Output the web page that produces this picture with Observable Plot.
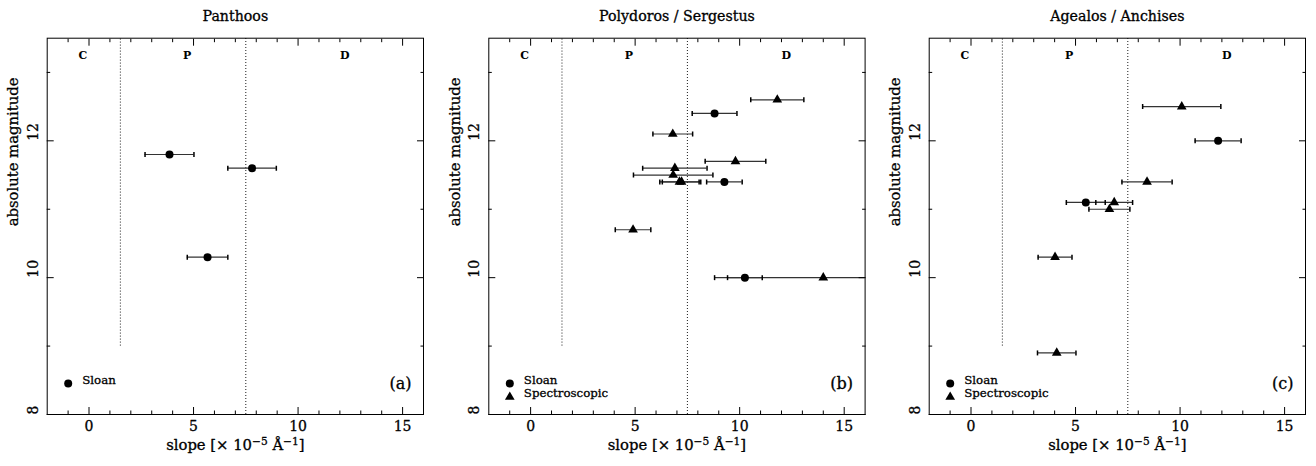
<!DOCTYPE html>
<html><head><meta charset="utf-8">
<script src="https://cdn.jsdelivr.net/npm/d3@7"></script>
<script src="https://cdn.jsdelivr.net/npm/@observablehq/plot@0.6"></script>
<style>
body{margin:0;background:#fff;}
#wrap{position:relative;width:1316px;height:466px;overflow:hidden;background:#fff;}
#wrap svg{position:absolute;top:0;}
</style></head><body><div id="wrap"></div>
<script>
// ---- data ----
const panelTitles = ["Panthoos", "Polydoros / Sergestus", "Agealos / Anchises"];
const panelTags = ["(a)", "(b)", "(c)"];
// x label pieces: normal, superscript, normal, superscript, normal
const xLabelParts = ["slope [× 10", "−5", " Å", "−1", "]"];
const yLabel = "absolute magnitude";
const xTicksMajor = [0, 5, 10, 15];
const xTicksMinor = [-1, 1, 2, 3, 4, 6, 7, 8, 9, 11, 12, 13, 14];
const yTicksMajor = [8, 10, 12];
const yTicksMinor = [9, 11, 13];
const xDomain = [-2, 16];
const yDomain = [8, 13.5];

// class boundaries (C | P | D)
const boundaryX = [1.5, 7.5];
const boundaryBottom = [9, 8];
const boundaryTop = [13.5, 13.5];
const regionNames = ["C", "P", "D"];
const regionX = [-0.5, 4.5, 12];
const regionY = [13.25, 13.25, 13.25];

// panel (a) Panthoos
const aSloanSlope = [3.85, 7.8, 5.67];
const aSloanMag   = [11.8, 11.6, 10.3];
const aSloanErr   = [1.17, 1.16, 0.97];

// panel (b) Polydoros / Sergestus
const bSloanSlope = [8.8, 9.27, 10.25];
const bSloanMag   = [12.4, 11.4, 10.0];
const bSloanErr   = [1.07, 0.85, 0.83];
const bSpecSlope  = [11.8, 6.8, 9.8, 6.9, 6.82, 7.12, 7.22, 4.9, 14.0];
const bSpecMag    = [12.6, 12.1, 11.7, 11.6, 11.5, 11.4, 11.4, 10.7, 10.0];
const bSpecErr    = [1.27, 0.95, 1.45, 1.54, 1.9, 0.94, 0.92, 0.85, 5.2];

// panel (c) Agealos / Anchises
const cSloanSlope = [11.82, 5.49];
const cSloanMag   = [12.0, 11.1];
const cSloanErr   = [1.1, 0.93];
const cSpecSlope  = [10.08, 8.42, 6.85, 6.62, 4.02, 4.1];
const cSpecMag    = [12.5, 11.4, 11.1, 11.0, 10.3, 8.9];
const cSpecErr    = [1.87, 1.2, 0.88, 0.98, 0.81, 0.92];

// ---- helpers ----
const zipPts = (s, m, e) => s.map((v, i) => ({slope: v, mag: m[i], err: e[i]}));
const boundaries = boundaryX.map((x, i) => ({x, y1: boundaryBottom[i], y2: boundaryTop[i]}));
const regions = regionNames.map((n, i) => ({label: n, x: regionX[i], y: regionY[i]}));
const capSymbol = {draw(ctx) { ctx.moveTo(0, -2.5); ctx.lineTo(0, 2.5); }};
const xLabelKey = xLabelParts.join("");

const panels = [
  {sloan: zipPts(aSloanSlope, aSloanMag, aSloanErr), spec: [], left: 0, width: 440, ml: 46.7},
  {sloan: zipPts(bSloanSlope, bSloanMag, bSloanErr), spec: zipPts(bSpecSlope, bSpecMag, bSpecErr), left: 440, width: 440, ml: 48.3},
  {sloan: zipPts(cSloanSlope, cSloanMag, cSloanErr), spec: zipPts(cSpecSlope, cSpecMag, cSpecErr), left: 880, width: 436, ml: 48.7}
];
const frameSize = 376.3;
const wrap = document.getElementById("wrap");
const font = "'DejaVu Serif', serif";
const thick = {fill: "black", stroke: "black", strokeWidth: 0.3};

panels.forEach((p, i) => {
  const all = p.sloan.concat(p.spec);
  const legend = [
    Plot.dot([0], {frameAnchor: "bottom-left", dx: 21, dy: -31, r: 4, fill: "black", symbol: "circle"}),
    Plot.text(["Sloan"], {frameAnchor: "bottom-left", dx: 35, dy: -31, text: d => d, textAnchor: "start", fontSize: 11.8, ...thick})
  ];
  if (p.spec.length) {
    legend.push(
      Plot.dot([0], {frameAnchor: "bottom-left", dx: 21, dy: -17.5, r: 3.6, fill: "black", symbol: "triangle"}),
      Plot.text(["Spectroscopic"], {frameAnchor: "bottom-left", dx: 35, dy: -17.5, text: d => d, textAnchor: "start", fontSize: 11.8, ...thick})
    );
  }
  const svg = Plot.plot({
    width: p.width,
    height: 466,
    marginLeft: p.ml,
    marginRight: p.width - p.ml - frameSize,
    marginTop: 37.7,
    marginBottom: 466 - 37.7 - frameSize,
    style: {fontFamily: font, fontSize: "13px", background: "white", color: "black", overflow: "visible"},
    x: {domain: xDomain},
    y: {domain: yDomain},
    marks: [
      Plot.ruleX(boundaries, {x: "x", y1: "y1", y2: "y2", stroke: "black", strokeWidth: 0.9, strokeDasharray: "1,2"}),
      Plot.text(regions, {x: "x", y: "y", text: "label", textAnchor: "start", fontWeight: "bold", fontSize: 11}),
      Plot.ruleY(all, {y: "mag", x1: d => d.slope - d.err, x2: d => d.slope + d.err, stroke: "#333", strokeWidth: 1.2, clip: true}),
      Plot.dot(all, {x: d => d.slope - d.err, y: "mag", symbol: capSymbol, fill: "none", stroke: "black", clip: true}),
      Plot.dot(all, {x: d => d.slope + d.err, y: "mag", symbol: capSymbol, fill: "none", stroke: "black", clip: true}),
      Plot.dot(p.sloan, {x: "slope", y: "mag", r: 4, fill: "black", symbol: "circle"}),
      Plot.dot(p.spec, {x: "slope", y: "mag", r: 3.6, fill: "black", symbol: "triangle"}),
      // ticks pointing inward on all four sides
      Plot.axisX({anchor: "bottom", ticks: xTicksMajor, tickSize: -7, fill: "none"}),
      Plot.axisX({anchor: "bottom", ticks: xTicksMinor, tickSize: -3.5, fill: "none"}),
      Plot.axisX({anchor: "top", ticks: xTicksMajor, tickSize: -7, fill: "none"}),
      Plot.axisX({anchor: "top", ticks: xTicksMinor, tickSize: -3.5, fill: "none"}),
      Plot.axisY({anchor: "left", ticks: yTicksMajor, tickSize: -7, fill: "none"}),
      Plot.axisY({anchor: "left", ticks: yTicksMinor, tickSize: -3.5, fill: "none"}),
      Plot.axisY({anchor: "right", ticks: yTicksMajor, tickSize: -7, fill: "none"}),
      Plot.axisY({anchor: "right", ticks: yTicksMinor, tickSize: -3.5, fill: "none"}),
      // tick labels
      Plot.text(xTicksMajor, {x: d => d, frameAnchor: "bottom", dy: 7, lineAnchor: "top", text: d => String(d), fontSize: 14, ...thick}),
      Plot.text(yTicksMajor, {y: d => d, frameAnchor: "left", dx: -14, rotate: -90, text: d => String(d), fontSize: 14, ...thick}),
      Plot.frame({stroke: "black"}),
      // titles / labels
      Plot.text([panelTitles[i]], {frameAnchor: "top", dy: -27, text: d => d, fontSize: 14.2, ...thick}),
      Plot.text([xLabelKey], {frameAnchor: "bottom", dy: 35, text: d => d, fontSize: 14.8, ...thick}),
      Plot.text([yLabel], {frameAnchor: "left", dx: -33.7, rotate: -90, text: d => d, fontSize: 14.8, ...thick}),
      Plot.text([panelTags[i]], {frameAnchor: "bottom-right", dx: -12, dy: -26, text: d => d, textAnchor: "end", fontSize: 16, ...thick}),
      ...legend
    ]
  });
  // render the exponents of the x label as real superscripts
  d3.select(svg).selectAll("text").filter(function() { return this.textContent === xLabelKey; }).each(function() {
    const t = d3.select(this);
    t.text(null);
    xLabelParts.forEach((part, k) => {
      const sup = k % 2 === 1;
      const ts = t.append("tspan").text(part);
      if (sup) ts.attr("dy", "-0.45em").attr("font-size", "0.72em");
      else if (k > 0) ts.attr("dy", "0.324em");
    });
  });
  svg.style.left = p.left + "px";
  wrap.appendChild(svg);
});
</script>
</body></html>
